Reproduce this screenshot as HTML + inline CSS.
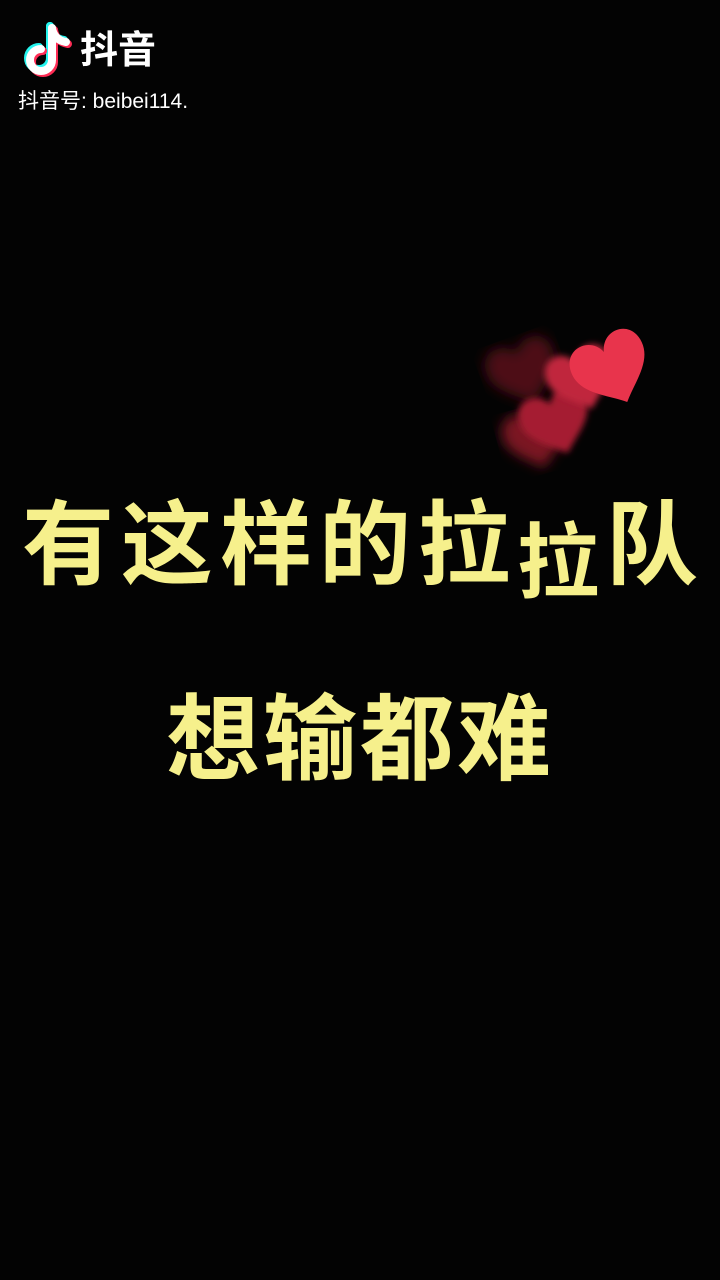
<!DOCTYPE html>
<html><head><meta charset="utf-8">
<style>
html,body{margin:0;padding:0;background:#030303;}
#page{position:relative;width:720px;height:1280px;overflow:hidden;background:#030303;font-family:"Liberation Sans","Noto Sans CJK SC",sans-serif;}
.t{position:absolute;white-space:nowrap;}
.cap{color:#f6f08c;font-family:"Liberation Sans","Noto Sans CJK SC",sans-serif;font-weight:700;}
</style></head>
<body>
<div id="page">
  <svg class="t" style="left:18px;top:20px" width="60" height="62" viewBox="0 0 60 62">
    <g fill="none" stroke-width="8" stroke-linecap="round">
      <path d="M34 8 V40 a11 11 0 1 1 -11 -11" stroke="#25f4ee" transform="translate(-2,-2)"/>
      <path d="M34 8 q2 12 14 14" stroke="#25f4ee" transform="translate(-2,-2)"/>
      <path d="M34 8 V40 a11 11 0 1 1 -11 -11" stroke="#fe2c55" transform="translate(2,2)"/>
      <path d="M34 8 q2 12 14 14" stroke="#fe2c55" transform="translate(2,2)"/>
      <path d="M34 8 V40 a11 11 0 1 1 -11 -11" stroke="#fff"/>
      <path d="M34 8 q2 12 14 14" stroke="#fff"/>
    </g>
  </svg>
  <div class="t" style="left:80px;top:28px;font-size:38px;color:#fff;font-weight:700;line-height:46px;">抖音</div>
  <div class="t" style="left:18px;top:88px;font-size:21px;color:#fff;line-height:28px;">抖音号: beibei114.</div>

  <svg class="t" style="left:460px;top:310px" width="210" height="180">
    <defs>
      <filter id="b1"><feGaussianBlur stdDeviation="6"/></filter>
      <filter id="b2"><feGaussianBlur stdDeviation="3"/></filter>
      <path id="h" d="M0 -12 C-6 -30 -32 -28 -32 -6 C-32 12 -12 22 0 34 C12 22 32 12 32 -6 C32 -28 6 -30 0 -12Z"/>
    </defs>
    <use href="#h" fill="#4e0e16" transform="translate(62,58) rotate(-20) scale(1.1)" filter="url(#b1)"/>
    <use href="#h" fill="#7a1624" transform="translate(75,125) rotate(-15) scale(1.0)" filter="url(#b1)"/>
    <use href="#h" fill="#a51f33" transform="translate(95,108) rotate(-20) scale(1.1)" filter="url(#b2)"/>
    <use href="#h" fill="#c0263c" transform="translate(120,65) rotate(-20) scale(1.05)" filter="url(#b2)"/>
    <use href="#h" fill="#e8344c" transform="translate(150,55) rotate(-25) scale(1.2)"/>
  </svg>

  <div class="t cap" style="left:22px;top:494px;font-size:92px;line-height:104px;letter-spacing:7px;">有这样的拉<span style="font-size:82px;position:relative;top:14px;">拉</span>队</div>
  <div class="t cap" style="left:166px;top:688px;font-size:94px;line-height:104px;letter-spacing:3px;">想输都难</div>
</div>
</body></html>
